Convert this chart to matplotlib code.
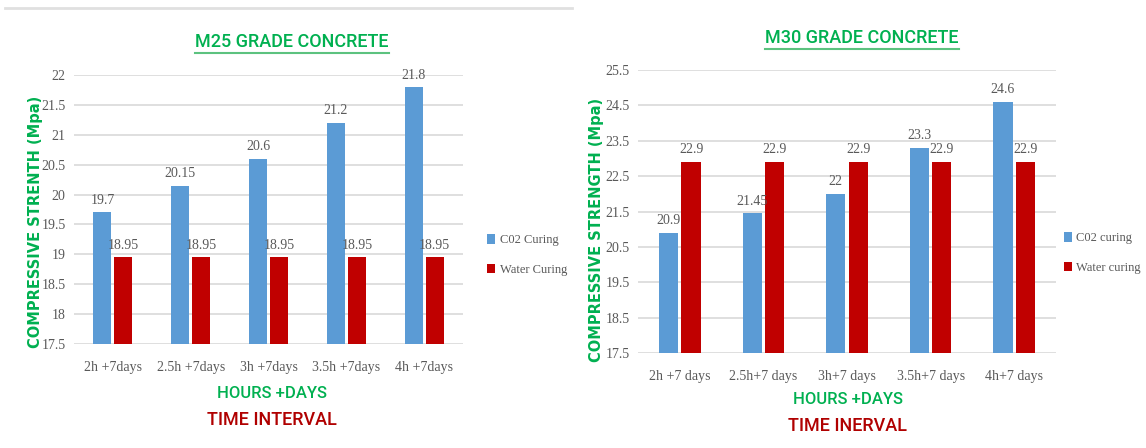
import matplotlib
matplotlib.use("Agg")
from matplotlib import pyplot as plt
from matplotlib.lines import Line2D
import numpy as np

# data
m25_labels = ["2h +7days", "2.5h +7days", "3h +7days", "3.5h +7days", "4h +7days"]
m25_co2 = [19.7, 20.15, 20.6, 21.2, 21.8]
m25_water = [18.95, 18.95, 18.95, 18.95, 18.95]
m25_ticks = [17.5, 18, 18.5, 19, 19.5, 20, 20.5, 21, 21.5, 22]

m30_labels = ["2h +7 days", "2.5h+7 days", "3h+7 days", "3.5h+7 days", "4h+7 days"]
m30_co2 = [20.9, 21.45, 22, 23.3, 24.6]
m30_water = [22.9, 22.9, 22.9, 22.9, 22.9]
m30_ticks = [17.5, 18.5, 19.5, 20.5, 21.5, 22.5, 23.5, 24.5, 25.5]

BLUE = "#5B9BD5"
RED = "#C00000"
GREEN = "#00B050"
DARKRED = "#B00000"
GRAY = "#595959"
SERIF = ["Liberation Serif", "DejaVu Serif"]
HEAD = ["Roboto", "DejaVu Sans"]

fig = plt.figure(figsize=(11.46, 4.48), dpi=100)
W, H = 1146, 448


def px(x0, y_top, x1, y_bot):
    return [x0 / W, 1 - y_bot / H, (x1 - x0) / W, (y_bot - y_top) / H]


def draw(rect, labels, co2, water, ticks, leg_names, leg_xy, title, title_xy, xl_xy, xl2, ylab_xy, ylab):
    ax = fig.add_axes(rect)
    x = np.arange(len(labels))
    w = 0.23
    off = 0.135
    base = ticks[0]
    b1 = ax.bar(x - off, np.array(co2) - base, w, bottom=base, color=BLUE, label=leg_names[0])
    b2 = ax.bar(x + off, np.array(water) - base, w, bottom=base, color=RED, label=leg_names[1])
    pad = (ticks[-1] - ticks[0]) * 0.02
    for xi, v in zip(x, co2):
        ax.text(xi - off, v + pad, f"{v:g}", ha="center", va="bottom",
                fontsize=10, color=GRAY, family=SERIF)
    for xi, v in zip(x, water):
        ax.text(xi + off, v + pad, f"{v:g}", ha="center", va="bottom",
                fontsize=10, color=GRAY, family=SERIF)
    ax.set_xlim(-0.5, len(labels) - 0.5)
    ax.set_ylim(ticks[0], ticks[-1])
    ax.set_yticks(ticks)
    ax.set_yticklabels([f"{t:g}" for t in ticks], family=SERIF, fontsize=10, color=GRAY)
    ax.set_xticks(x)
    ax.set_xticklabels(labels, family=SERIF, fontsize=10, color=GRAY)
    ax.tick_params(length=0)
    ax.tick_params(axis="x", pad=12)
    ax.tick_params(axis="y", pad=6)
    for s in ax.spines.values():
        s.set_visible(False)
    ax.yaxis.grid(True, color="#D9D9D9", lw=1.2)
    ax.set_axisbelow(True)
    # y label
    fig.text(ylab_xy[0] / W, 1 - ylab_xy[1] / H, ylab,
             rotation=90, ha="center", va="center", color=GREEN, fontsize=10.5, weight="bold")
    # legend placed in figure pixels
    fig.legend(handles=[b1, b2], loc="center left", bbox_to_anchor=(leg_xy[0] / W, 1 - leg_xy[1] / H),
               frameon=False, prop={"family": SERIF, "size": 9}, handlelength=0.6, handleheight=0.8,
               labelspacing=1.4, handletextpad=0.4, labelcolor=GRAY, borderpad=0, borderaxespad=0)
    # title with underline
    t = fig.text(title_xy[0] / W, 1 - title_xy[1] / H, title, ha="center", va="center",
                 color=GREEN, fontsize=13, family=HEAD, weight="medium")
    fig.canvas.draw()
    bb = t.get_window_extent(fig.canvas.get_renderer())
    fig.add_artist(Line2D([bb.x0 / W, bb.x1 / W], [(bb.y0 - 2) / H, (bb.y0 - 2) / H],
                          color="#5CC27F", lw=1.5))
    fig.text(xl_xy[0] / W, 1 - xl_xy[1] / H, "HOURS +DAYS", ha="center", va="center",
             color=GREEN, fontsize=12, family=HEAD, weight="medium")
    fig.text(xl_xy[0] / W, 1 - (xl_xy[1] + 27) / H, xl2, ha="center", va="center",
             color=DARKRED, fontsize=13, family=HEAD, weight="medium")
    return ax


draw(px(74, 75, 463, 344), m25_labels, m25_co2, m25_water, m25_ticks,
     ["C02 Curing", "Water Curing"], (487, 255), "M25 GRADE CONCRETE", (292, 42), (272, 393),
     "TIME INTERVAL", (36, 222), "COMPRESSIVE STRENTH (Mpa)")
draw(px(638, 70, 1056, 353), m30_labels, m30_co2, m30_water, m30_ticks,
     ["C02 curing", "Water curing"], (1064, 253), "M30 GRADE CONCRETE", (862, 38), (848, 399),
     "TIME INERVAL", (597, 230), "COMPRESSIVE STRENGTH (Mpa)")

# thin separator line at the top of the left panel
fig.add_artist(Line2D([5 / W, 572 / W], [1 - 8 / H, 1 - 8 / H], color="#E0E0E0", lw=2))

fig.savefig("out.png", dpi=100)
